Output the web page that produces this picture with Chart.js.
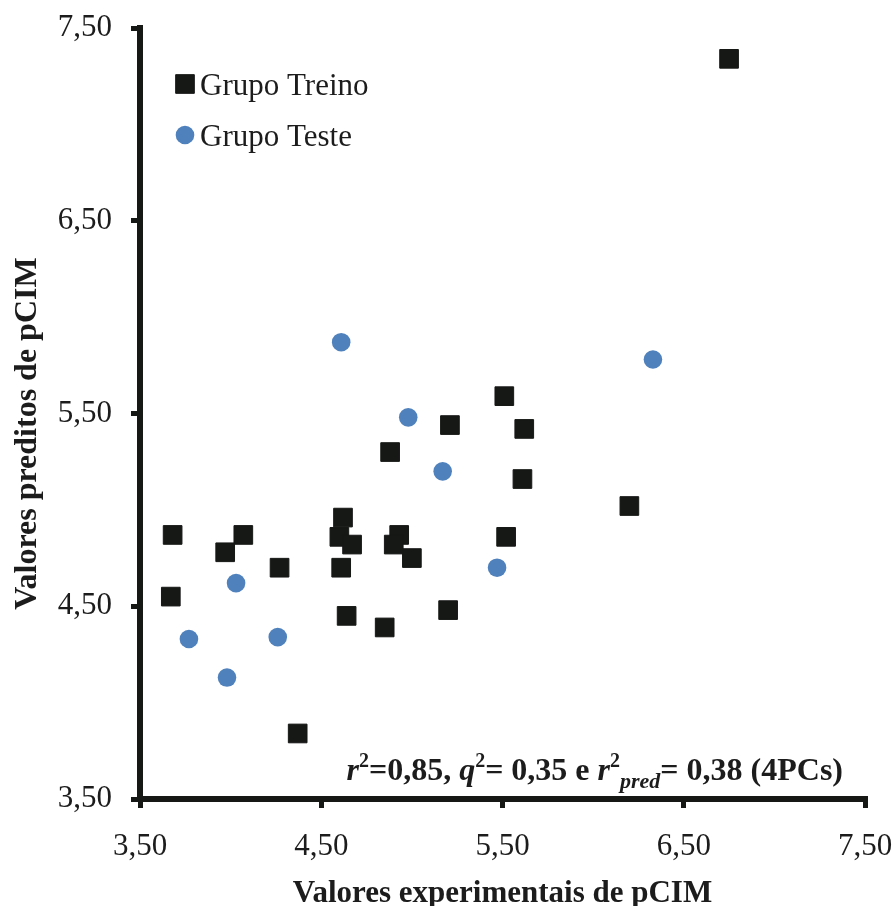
<!DOCTYPE html>
<html>
<head>
<meta charset="utf-8">
<script src="https://cdn.jsdelivr.net/npm/chart.js@4/dist/chart.umd.min.js"></script>
<style>
  html, body { margin: 0; padding: 0; background: #ffffff; }
  #wrap { width: 894px; height: 906px; }
</style>
</head>
<body>
<div id="wrap"><canvas id="c" width="894" height="906"></canvas></div>
<script>
// ---- data ----
const seriesNames = ['Grupo Treino', 'Grupo Teste'];
const trainX = [3.68, 4.07, 3.97, 4.27, 4.62, 4.60, 4.67, 4.61, 4.88, 4.93, 4.90, 5.00, 5.21, 5.51, 5.62, 5.61, 5.52, 3.67, 4.64, 4.85, 5.20, 4.37, 6.20, 6.75];
const trainY = [4.87, 4.87, 4.78, 4.70, 4.96, 4.86, 4.82, 4.70, 5.30, 4.87, 4.82, 4.75, 5.44, 5.59, 5.42, 5.16, 4.86, 4.55, 4.45, 4.39, 4.48, 3.84, 5.02, 7.34];
const testX = [4.61, 4.98, 5.17, 5.47, 4.03, 3.77, 3.98, 4.26, 6.33];
const testY = [5.87, 5.48, 5.20, 4.70, 4.62, 4.33, 4.13, 4.34, 5.78];
const xTickValues = [3.5, 4.5, 5.5, 6.5, 7.5];
const xTickLabels = ['3,50', '4,50', '5,50', '6,50', '7,50'];
const yTickValues = [3.5, 4.5, 5.5, 6.5, 7.5];
const yTickLabels = ['3,50', '4,50', '5,50', '6,50', '7,50'];
const xTitle = 'Valores experimentais de pCIM';
const yTitle = 'Valores preditos de pCIM';

const FONT = '"Liberation Serif", "Times New Roman", serif';
const INK = '#1c1c1c';
const BLUE = '#4f81bd';
const BLACK = '#161816';

const toPts = (xs, ys) => xs.map((x, i) => ({ x: x, y: ys[i] }));

const noOverhang = s => { s.paddingLeft = 0; s.paddingRight = 0; s.paddingTop = 0; s.paddingBottom = 0; };

const legendPlugin = {
  id: 'customLegend',
  afterDraw(chart) {
    const ctx = chart.ctx;
    const ca = chart.chartArea;
    ctx.save();
    chart.data.datasets.forEach((ds, i) => {
      const cx = ca.left + 45;
      const cy = ca.top + 56 + i * 51;
      ctx.fillStyle = ds.backgroundColor;
      ctx.strokeStyle = ds.borderColor;
      ctx.lineWidth = ds.borderWidth;
      Chart.helpers.drawPoint(ctx, { pointStyle: ds.pointStyle, radius: ds.pointRadius, borderWidth: ds.borderWidth, rotation: 0 }, cx, cy);
      ctx.fillStyle = INK;
      ctx.font = '31px ' + FONT;
      ctx.textAlign = 'left';
      ctx.textBaseline = 'alphabetic';
      ctx.fillText(ds.label, cx + 15, cy + 11);
    });
    ctx.restore();
  }
};

const statsPlugin = {
  id: 'stats',
  afterDraw(chart) {
    const ctx = chart.ctx;
    const ca = chart.chartArea;
    const big = 'bold 32px ' + FONT;
    const bigI = 'italic bold 32px ' + FONT;
    const sup = 'bold 20px ' + FONT;
    const subI = 'italic bold 22px ' + FONT;
    const parts = [
      ['r', bigI, 0], ['2', sup, -13], ['=0,85, ', big, 0],
      ['q', bigI, 0], ['2', sup, -13], ['= 0,35 e ', big, 0],
      ['r', bigI, 0], ['2', sup, -13], ['pred', subI, 8], ['= 0,38 (4PCs)', big, 0]
    ];
    ctx.save();
    let total = 0;
    parts.forEach(p => { ctx.font = p[1]; total += ctx.measureText(p[0]).width; });
    let x = ca.right - 22 - total;
    const base = ca.bottom - 19;
    ctx.fillStyle = INK;
    ctx.textAlign = 'left';
    ctx.textBaseline = 'alphabetic';
    parts.forEach(p => {
      ctx.font = p[1];
      ctx.fillText(p[0], x, base + p[2]);
      x += ctx.measureText(p[0]).width;
    });
    ctx.restore();
  }
};

new Chart(document.getElementById('c'), {
  type: 'scatter',
  data: {
    datasets: [
      {
        label: seriesNames[0],
        data: toPts(trainX, trainY),
        pointStyle: 'rect',
        pointRadius: 13.2,
        pointHoverRadius: 13.2,
        backgroundColor: BLACK,
        borderColor: BLACK,
        borderWidth: 1
      },
      {
        label: seriesNames[1],
        data: toPts(testX, testY),
        pointStyle: 'circle',
        pointRadius: 9.3,
        pointHoverRadius: 9.3,
        backgroundColor: BLUE,
        borderColor: BLUE,
        borderWidth: 0
      }
    ]
  },
  options: {
    responsive: false,
    animation: false,
    devicePixelRatio: 1,
    layout: { padding: { left: 0, right: 29, top: 28, bottom: 0 } },
    plugins: { legend: { display: false }, tooltip: { enabled: false } },
    scales: {
      x: {
        type: 'linear',
        min: 3.5, max: 7.5,
        afterBuildTicks: s => { s.ticks = xTickValues.map(v => ({ value: v })); },
        afterFit: s => { s.height = 107; noOverhang(s); },
        ticks: {
          callback: (v) => xTickLabels[xTickValues.indexOf(v)],
          font: { family: FONT, size: 31 },
          color: INK,
          padding: 20,
          maxRotation: 0
        },
        grid: { drawOnChartArea: false, drawTicks: true, tickLength: 9, lineWidth: 5, color: BLACK },
        border: { display: true, width: 6, color: BLACK },
        title: {
          display: true, text: xTitle, color: INK,
          font: { family: FONT, size: 31, weight: 'bold', lineHeight: 1 },
          padding: { top: 0, bottom: -3 }
        }
      },
      y: {
        type: 'linear',
        min: 3.5, max: 7.5,
        afterBuildTicks: s => { s.ticks = yTickValues.map(v => ({ value: v })); },
        afterFit: s => { s.width = 140; noOverhang(s); },
        ticks: {
          callback: (v) => yTickLabels[yTickValues.indexOf(v)],
          font: { family: FONT, size: 31 },
          color: INK,
          padding: 19
        },
        grid: { drawOnChartArea: false, drawTicks: true, tickLength: 9, lineWidth: 5, color: BLACK },
        border: { display: true, width: 6, color: BLACK },
        title: {
          display: true, text: yTitle + '     ', color: INK,
          font: { family: FONT, size: 32, weight: 'bold', lineHeight: 1 },
          padding: { top: 12, bottom: 0 }
        }
      }
    }
  },
  plugins: [legendPlugin, statsPlugin]
});
</script>
</body>
</html>
